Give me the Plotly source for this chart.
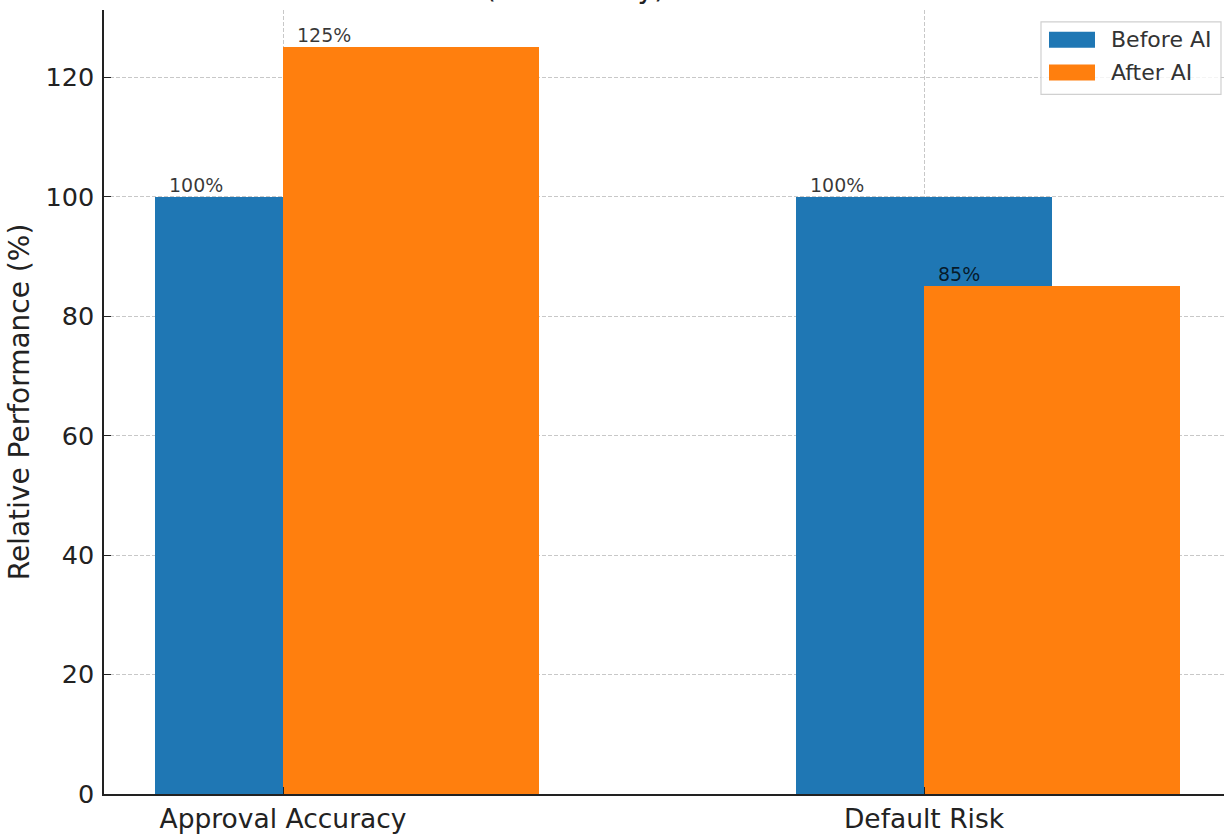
import plotly.graph_objects as go

categories = ["Approval Accuracy", "Default Risk"]
before_ai = [100, 100]
after_ai = [125, 85]
series_names = ["Before AI", "After AI"]
y_ticks = [0, 20, 40, 60, 80, 100, 120]

BLUE = "#1f77b4"
ORANGE = "#ff7f0e"
FONT = "DejaVu Sans"
BAR_W = 0.4

W, H = 1224, 834
L, R, T, B = 104, 0, 10, 34
pw, ph = W - L - R, H - T - B

pos = list(range(len(categories)))
x_before = [p for p in pos]
x_after = [p + BAR_W / 2 for p in pos]

fig = go.Figure()
fig.add_trace(go.Bar(x=x_before, y=before_ai, width=BAR_W, marker_color=BLUE,
                     marker_line_width=0, name=series_names[0], showlegend=False))
fig.add_trace(go.Bar(x=x_after, y=after_ai, width=BAR_W, marker_color=ORANGE,
                     marker_line_width=0, name=series_names[1], showlegend=False))

annotations = []
for xs, vals in ((x_before, before_ai), (x_after, after_ai)):
    for x, v in zip(xs, vals):
        annotations.append(dict(x=x - BAR_W / 2, y=v, xref="x", yref="y",
                                text=f"{v}%", showarrow=False, xanchor="left",
                                yanchor="bottom", xshift=12, yshift=-1,
                                font=dict(family=FONT, size=19, color="rgba(0,0,0,0.78)")))

def px_x(px):
    return (px - L) / pw

def px_y(py):
    return (H - B - py) / ph

# legend box
shapes = [dict(type="rect", xref="paper", yref="paper",
               x0=px_x(1041), x1=px_x(1221), y0=px_y(95), y1=px_y(22),
               line=dict(color="#d0d0d0", width=1.2), fillcolor="rgba(255,255,255,0.8)",
               layer="above")]
for i, (name, col) in enumerate(zip(series_names, [BLUE, ORANGE])):
    yc = 40 + i * 33
    shapes.append(dict(type="rect", xref="paper", yref="paper",
                       x0=px_x(1049), x1=px_x(1095), y0=px_y(yc + 8), y1=px_y(yc - 8),
                       line=dict(width=0), fillcolor=col, layer="above"))
    annotations.append(dict(x=px_x(1109), y=px_y(yc), xref="paper", yref="paper",
                            text=name, showarrow=False, xanchor="left", yanchor="middle",
                            font=dict(family=FONT, size=22, color="#333333")))

# title (mostly cut off at the top edge of the picture, as in the reference)
annotations.append(dict(x=px_x(575), y=px_y(0), xref="paper", yref="paper",
                        text="(Case Study)", showarrow=False, xanchor="center",
                        yanchor="bottom", yshift=-7,
                        font=dict(family=FONT, size=28, color="#222222")))

fig.update_layout(
    width=W, height=H,
    margin=dict(l=L, r=R, t=T, b=B, pad=0),
    plot_bgcolor="white", paper_bgcolor="white",
    barmode="overlay", bargap=0,
    font=dict(family=FONT, color="#222222"),
    annotations=annotations, shapes=shapes,
    showlegend=False,
)
fig.update_xaxes(range=[-0.2793, 1.468], tickvals=pos, ticktext=categories,
                 showgrid=True, gridcolor="#c8c8c8", griddash="4px,2px", gridwidth=1,
                 showline=True, linecolor="#222222", linewidth=1.5,
                 ticks="inside", ticklen=7, tickcolor="#222222",
                 tickfont=dict(family=FONT, size=26.5, color="#222222"),
                 zeroline=False, layer="above traces", fixedrange=True)
fig.update_yaxes(range=[0, 131.25], tickvals=y_ticks,
                 showgrid=True, gridcolor="#c8c8c8", griddash="4px,2px", gridwidth=1,
                 showline=True, linecolor="#222222", linewidth=1.5,
                 ticks="inside", ticklen=7, tickcolor="#222222",
                 tickfont=dict(family=FONT, size=25.5, color="#222222"),
                 ticklabelstandoff=3,
                 title=dict(text="Relative Performance (%)", standoff=8,
                            font=dict(family=FONT, size=28, color="#222222")),
                 zeroline=False, layer="above traces", fixedrange=True)

fig.write_html("out.html")
